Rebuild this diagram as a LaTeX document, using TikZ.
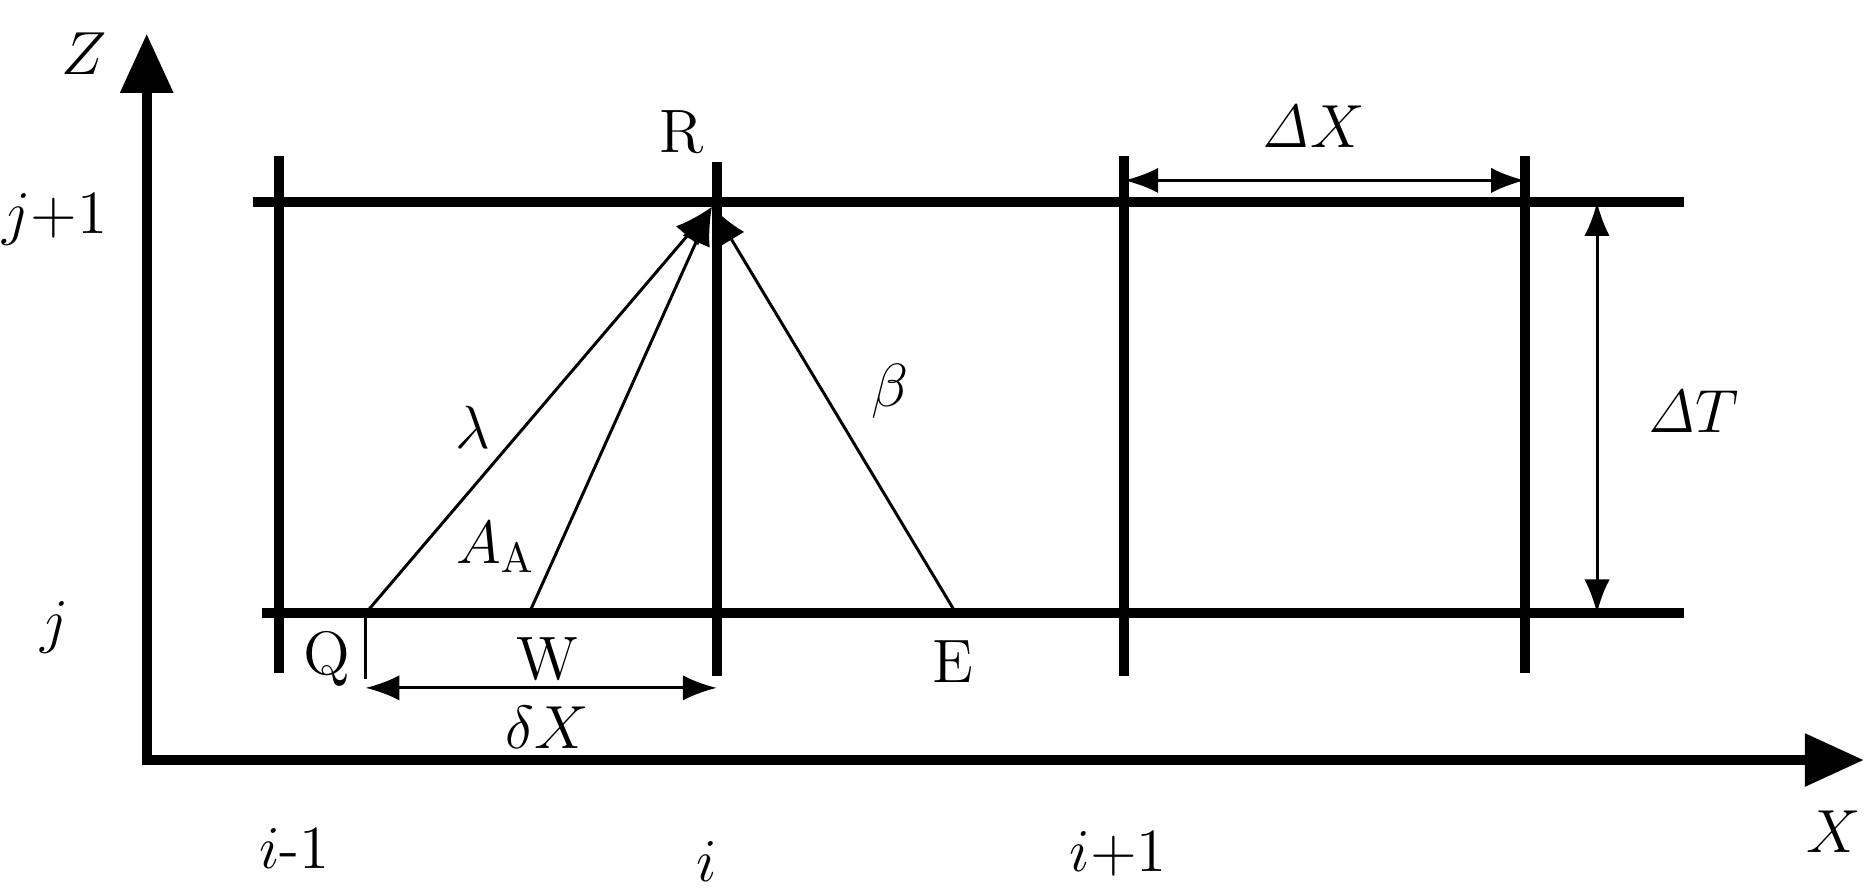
\documentclass[tikz,border=0pt]{standalone}
\usetikzlibrary{arrows.meta}
\begin{document}
\begin{tikzpicture}[x=0.01cm,y=-0.01cm,
  thick line/.style={line width=2.4pt},
  thin line/.style={line width=0.7pt},
  lab/.style={font=\fontsize{14.5}{17}\selectfont, inner sep=0pt},
  tip/.style={-{Latex[length=9pt,width=7pt]}},
  dim/.style={thin line,{Latex[length=8pt,width=6pt]}-{Latex[length=8pt,width=6pt]}}]
\useasboundingbox (0,0) rectangle (1560,745);
% axes
\coordinate (Zt) at (122,28);
\coordinate (Xt) at (1550,632);
\draw[thick line,-{Triangle[length=14pt,width=12pt]}] (122,636) -- (Zt);
\draw[thick line,-{Triangle[length=14pt,width=12pt]}] (118,632) -- (Xt);
% grid
\coordinate (t1) at (210,168); \coordinate (t2) at (1400,168);
\coordinate (b1) at (218,510); \coordinate (b2) at (1400,510);
\draw[thick line] (t1) -- (t2);
\draw[thick line] (b1) -- (b2);
\foreach \n/\x/\a/\b in {v1/232/130/560, v2/596/135/562, v3/935/130/562, v4/1268/130/560}{
  \coordinate (\n a) at (\x,\a); \coordinate (\n b) at (\x,\b);
  \draw[thick line] (\n a) -- (\n b);}
% characteristic lines
\coordinate (R) at (592,172);
\coordinate (Q) at (304,510);
\coordinate (W) at (440,510);
\coordinate (E) at (795,510);
\draw[thin line,tip] (Q) -- (R);
\draw[thin line,tip] (W) -- (R);
\draw[thin line,tip] (E) -- (R);
\coordinate (Qb) at (304,565);
\draw[thin line] (Q) -- (Qb);
% dimensions
\coordinate (d1) at (304,572); \coordinate (d2) at (596,572);
\draw[dim] (d1) -- (d2);
\coordinate (D1) at (935,150); \coordinate (D2) at (1268,150);
\draw[dim] (D1) -- (D2);
\coordinate (T1) at (1328,168); \coordinate (T2) at (1328,510);
\draw[dim] (T1) -- (T2);
% labels
\node[lab] (lZ) at (70,45) {$Z$};
\node[lab] (lj1) at (46,182) {$j$+1};
\node[lab] (lj) at (45,522) {$j$};
\node[lab] (li1) at (245,705) {$i$-1};
\node[lab] (li) at (588,716) {$i$};
\node[lab] (lip) at (930,710) {$i$+1};
\node[lab] (lX) at (1525,692) {$X$};
\node[lab] (lR) at (567,110) {R};
\node[lab] (ll) at (393,355) {$\lambda$};
\node[lab] (lb) at (740,325) {$\beta$};
\node[lab] (lA) at (412,455) {$A_{\mathrm{A}}$};
\node[lab] (lQ) at (272,548) {Q};
\node[lab] (lW) at (455,548) {W};
\node[lab] (lE) at (792,550) {E};
\node[lab] (ldx) at (455,605) {$\delta X$};
\node[lab] (lDX) at (1092,105) {$\mathit{\Delta} X$};
\node[lab] (lDT) at (1408,342) {$\mathit{\Delta} T$};
\end{tikzpicture}
\end{document}
